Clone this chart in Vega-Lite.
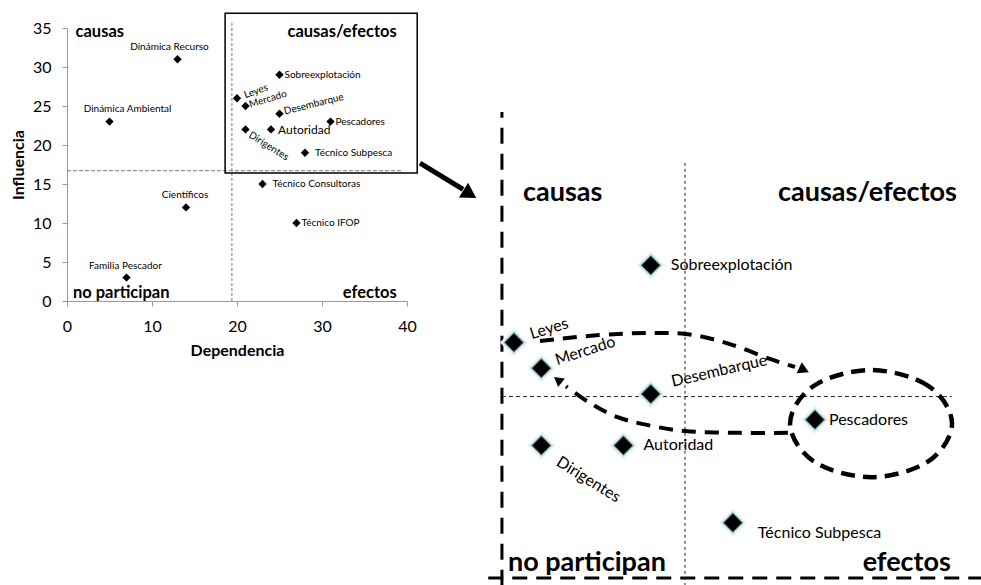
{
  "$schema": "https://vega.github.io/schema/vega-lite/v6.json",
  "width": 981,
  "height": 585,
  "autosize": {"type": "none"},
  "padding": 0,
  "background": "white",
  "config": {"view": {"stroke": null}, "font": "Lato", "text": {"font": "Lato", "color": "#000"}},
  "datasets": {
    "pts": [
      {"name": "Dinámica Recurso", "dep": 13, "inf": 31},
      {"name": "Dinámica Ambiental", "dep": 5, "inf": 23},
      {"name": "Científicos", "dep": 14, "inf": 12},
      {"name": "Familia Pescador", "dep": 7, "inf": 3},
      {"name": "Técnico Consultoras", "dep": 23, "inf": 15},
      {"name": "Técnico IFOP", "dep": 27, "inf": 10},
      {"name": "Sobreexplotación", "dep": 25, "inf": 29},
      {"name": "Leyes", "dep": 20, "inf": 26},
      {"name": "Mercado", "dep": 21, "inf": 25},
      {"name": "Desembarque", "dep": 25, "inf": 24},
      {"name": "Autoridad", "dep": 24, "inf": 22},
      {"name": "Dirigentes", "dep": 21, "inf": 22},
      {"name": "Pescadores", "dep": 31, "inf": 23},
      {"name": "Técnico Subpesca", "dep": 28, "inf": 19}
    ],
    "quadsL": [
      {"t": "causas", "dep": 1.0, "inf": 34.5},
      {"t": "causas/efectos", "dep": 38.8, "inf": 34.5},
      {"t": "no participan", "dep": 0.7, "inf": 1.0},
      {"t": "efectos", "dep": 38.8, "inf": 1.0}
    ],
    "quadsR": [
      {"t": "causas", "dep": 20.33, "inf": 31.8},
      {"t": "causas/efectos", "dep": 36.19, "inf": 31.8},
      {"t": "no participan", "dep": 19.78, "inf": 17.44},
      {"t": "efectos", "dep": 35.97, "inf": 17.44}
    ]
  },
  "layer": [
    {
      "encoding": {
        "x": {"field": "dep", "type": "quantitative",
          "scale": {"domain": [0, 40], "range": [67, 407], "nice": false, "zero": false},
          "axis": {"title": "Dependencia", "values": [0, 10, 20, 30, 40], "offset": -284, "grid": false,
            "tickSize": 5, "labelPadding": 12, "labelFontSize": 16, "labelFont": "Lato", "labelColor": "#000",
            "labelFlush": false, "labelOverlap": false, "domainColor": "#999", "tickColor": "#999",
            "titleFont": "Lato", "titleFontSize": 16, "titleFontWeight": "bold", "titleColor": "#000", "titlePadding": 8}},
        "y": {"field": "inf", "type": "quantitative",
          "scale": {"domain": [0, 35], "range": [301, 28], "nice": false, "zero": false},
          "axis": {"title": "Influencia", "values": [0, 5, 10, 15, 20, 25, 30, 35], "offset": -67, "grid": false,
            "tickSize": 5, "labelPadding": 11, "labelFontSize": 16, "labelFont": "Lato", "labelColor": "#000",
            "labelFlush": false, "labelOverlap": false, "domainColor": "#999", "tickColor": "#999",
            "titleFont": "Lato", "titleFontSize": 16, "titleFontWeight": "bold", "titleColor": "#000", "titlePadding": 6}}
      },
      "layer": [
        {"data": {"values": [{"dep": 19.4, "inf": 0, "inf2": 35.7}]},
         "mark": {"type": "rule", "strokeDash": [3, 2], "color": "#777", "strokeWidth": 1},
         "encoding": {"y2": {"field": "inf2"}}},
        {"data": {"values": [{"dep": 0, "dep2": 39.5, "inf": 16.7}]},
         "mark": {"type": "rule", "strokeDash": [4, 2], "color": "#777", "strokeWidth": 1},
         "encoding": {"x2": {"field": "dep2"}}},
        {"data": {"values": [{"dep": 18.6, "dep2": 41.2, "inf": 16.4, "inf2": 36.9}]},
         "mark": {"type": "rect", "fillOpacity": 0, "stroke": "#000", "strokeWidth": 1.5},
         "encoding": {"x2": {"field": "dep2"}, "y2": {"field": "inf2"}}},
        {"data": {"name": "pts"},
         "mark": {"type": "point", "shape": "diamond", "filled": true, "size": 70, "color": "#000", "opacity": 1}},
        {"data": {"name": "pts"}, "transform": [{"filter": {"field": "name", "oneOf": ["Dinámica Recurso"]}}],
         "mark": {"type": "text", "align": "center", "baseline": "middle", "dx": -8, "dy": -12, "fontSize": 10},
         "encoding": {"text": {"field": "name"}}},
        {"data": {"name": "pts"}, "transform": [{"filter": {"field": "name", "oneOf": ["Dinámica Ambiental"]}}],
         "mark": {"type": "text", "align": "center", "baseline": "middle", "dx": 18, "dy": -13, "fontSize": 10},
         "encoding": {"text": {"field": "name"}}},
        {"data": {"name": "pts"}, "transform": [{"filter": {"field": "name", "oneOf": ["Científicos", "Familia Pescador"]}}],
         "mark": {"type": "text", "align": "center", "baseline": "middle", "dx": -1, "dy": -12, "fontSize": 10},
         "encoding": {"text": {"field": "name"}}},
        {"data": {"name": "pts"}, "transform": [{"filter": {"field": "name", "oneOf": ["Técnico IFOP", "Sobreexplotación", "Pescadores"]}}],
         "mark": {"type": "text", "align": "left", "baseline": "middle", "dx": 5, "fontSize": 10},
         "encoding": {"text": {"field": "name"}}},
        {"data": {"name": "pts"}, "transform": [{"filter": {"field": "name", "oneOf": ["Técnico Consultoras", "Técnico Subpesca"]}}],
         "mark": {"type": "text", "align": "left", "baseline": "middle", "dx": 10, "fontSize": 10},
         "encoding": {"text": {"field": "name"}}},
        {"data": {"name": "pts"}, "transform": [{"filter": {"field": "name", "oneOf": ["Autoridad"]}}],
         "mark": {"type": "text", "align": "left", "baseline": "middle", "dx": 7, "dy": 1, "fontSize": 12},
         "encoding": {"text": {"field": "name"}}},
        {"data": {"name": "pts"}, "transform": [{"filter": {"field": "name", "oneOf": ["Leyes"]}}],
         "mark": {"type": "text", "align": "left", "baseline": "middle", "dx": 8, "dy": 0, "angle": -20, "fontSize": 10},
         "encoding": {"text": {"field": "name"}}},
        {"data": {"name": "pts"}, "transform": [{"filter": {"field": "name", "oneOf": ["Mercado"]}}],
         "mark": {"type": "text", "align": "left", "baseline": "middle", "dx": 4, "dy": 0, "angle": -17, "fontSize": 10},
         "encoding": {"text": {"field": "name"}}},
        {"data": {"name": "pts"}, "transform": [{"filter": {"field": "name", "oneOf": ["Desembarque"]}}],
         "mark": {"type": "text", "align": "left", "baseline": "middle", "dx": 5, "dy": -1, "angle": -14, "fontSize": 10},
         "encoding": {"text": {"field": "name"}}},
        {"data": {"name": "pts"}, "transform": [{"filter": {"field": "name", "oneOf": ["Dirigentes"]}}],
         "mark": {"type": "text", "align": "left", "baseline": "middle", "dx": 6, "dy": 2, "angle": 32, "fontSize": 10},
         "encoding": {"text": {"field": "name"}}},
        {"data": {"name": "quadsL"}, "transform": [{"filter": {"field": "t", "oneOf": ["causas", "no participan"]}}],
         "mark": {"type": "text", "align": "left", "baseline": "middle", "fontSize": 16.5, "fontWeight": "bold"},
         "encoding": {"text": {"field": "t"}}},
        {"data": {"name": "quadsL"}, "transform": [{"filter": {"field": "t", "oneOf": ["causas/efectos", "efectos"]}}],
         "mark": {"type": "text", "align": "right", "baseline": "middle", "fontSize": 16.5, "fontWeight": "bold"},
         "encoding": {"text": {"field": "t"}}},
        {"data": {"values": [{"dep": 41.53, "inf": 17.69, "o": 1}, {"dep": 46.6, "inf": 14.3, "o": 2}]},
         "mark": {"type": "line", "color": "#000", "strokeWidth": 5},
         "encoding": {"order": {"field": "o"}}},
        {"data": {"values": [{"dep": 47.4, "inf": 13.7}]},
         "mark": {"type": "point", "shape": "triangle-right", "filled": true, "size": 300, "angle": 32, "color": "#000", "opacity": 1}}
      ]
    },
    {
      "encoding": {
        "x": {"field": "dep", "type": "quantitative",
          "scale": {"domain": [19.5, 37.5], "range": [500.3, 992.8], "nice": false, "zero": false}, "axis": null},
        "y": {"field": "inf", "type": "quantitative",
          "scale": {"domain": [16.5, 37.5], "range": [587.1, 46.4], "nice": false, "zero": false}, "axis": null}
      },
      "layer": [
        {"data": {"values": [{"dep": 19.56, "inf": 16.55, "inf2": 34.95}]},
         "mark": {"type": "rule", "strokeDash": [16, 10], "color": "#000", "strokeWidth": 3},
         "encoding": {"y2": {"field": "inf2"}}},
        {"data": {"values": [{"dep": 19.06, "dep2": 37.1, "inf": 16.85}]},
         "mark": {"type": "rule", "strokeDash": [15, 9], "color": "#000", "strokeWidth": 3},
         "encoding": {"x2": {"field": "dep2"}}},
        {"data": {"values": [{"dep": 19.56, "dep2": 36.0, "inf": 23.9}]},
         "mark": {"type": "rule", "strokeDash": [4, 3], "color": "#222", "strokeWidth": 1},
         "encoding": {"x2": {"field": "dep2"}}},
        {"data": {"values": [{"dep": 26.25, "inf": 16.55, "inf2": 33.05}]},
         "mark": {"type": "rule", "strokeDash": [3, 3], "color": "#222", "strokeWidth": 1},
         "encoding": {"y2": {"field": "inf2"}}},
        {"data": {"values": [
           {"dep": 20.95, "inf": 26.06, "o": 1}, {"dep": 23.14, "inf": 26.29, "o": 2}, {"dep": 24.97, "inf": 26.37, "o": 3},
           {"dep": 26.43, "inf": 26.31, "o": 4}, {"dep": 27.89, "inf": 25.94, "o": 5}, {"dep": 29.36, "inf": 25.36, "o": 6},
           {"dep": 30.27, "inf": 25.05, "o": 7}]},
         "mark": {"type": "line", "interpolate": "cardinal", "color": "#000", "strokeWidth": 4, "strokeDash": [14, 9]},
         "encoding": {"order": {"field": "o"}}},
        {"data": {"values": [
           {"dep": 30.01, "inf": 22.49, "o": 1}, {"dep": 28.26, "inf": 22.49, "o": 2}, {"dep": 26.25, "inf": 22.56, "o": 3},
           {"dep": 24.86, "inf": 22.8, "o": 4}, {"dep": 23.76, "inf": 23.11, "o": 5}, {"dep": 22.78, "inf": 23.65, "o": 6},
           {"dep": 21.9, "inf": 24.3, "o": 7}]},
         "mark": {"type": "line", "interpolate": "cardinal", "color": "#000", "strokeWidth": 4, "strokeDash": [14, 9]},
         "encoding": {"order": {"field": "o"}}},
        {"data": {"values": [
           {"dep": 36.01, "inf": 22.85, "o": 1}, {"dep": 35.14, "inf": 24.32, "o": 2}, {"dep": 33.05, "inf": 24.93, "o": 3},
           {"dep": 30.96, "inf": 24.32, "o": 4}, {"dep": 30.09, "inf": 22.85, "o": 5}, {"dep": 30.96, "inf": 21.38, "o": 6},
           {"dep": 33.05, "inf": 20.77, "o": 7}, {"dep": 35.14, "inf": 21.38, "o": 8}]},
         "mark": {"type": "line", "interpolate": "cardinal-closed", "color": "#000", "strokeWidth": 4.5, "strokeDash": [14, 8]},
         "encoding": {"order": {"field": "o"}}},
        {"data": {"values": [{"dep": 30.6, "inf": 24.93}]},
         "mark": {"type": "point", "shape": "triangle-right", "filled": true, "size": 150, "angle": 25, "color": "#000", "opacity": 1}},
        {"data": {"values": [{"dep": 21.6, "inf": 24.55}]},
         "mark": {"type": "point", "shape": "triangle-right", "filled": true, "size": 120, "angle": 218, "color": "#000", "opacity": 1}},
        {"data": {"name": "pts"}, "transform": [{"filter": "datum.dep >= 19.5 && datum.inf >= 17"}],
         "mark": {"type": "point", "shape": "diamond", "filled": true, "size": 800, "color": "#eaf5f6", "opacity": 1}},
        {"data": {"name": "pts"}, "transform": [{"filter": "datum.dep >= 19.5 && datum.inf >= 17"}],
         "mark": {"type": "point", "shape": "diamond", "filled": true, "size": 560, "color": "#c2e0e2", "opacity": 1}},
        {"data": {"name": "pts"}, "transform": [{"filter": "datum.dep >= 19.5 && datum.inf >= 17"}],
         "mark": {"type": "point", "shape": "diamond", "filled": true, "size": 410, "color": "#5f8f93", "opacity": 1}},
        {"data": {"name": "pts"}, "transform": [{"filter": "datum.dep >= 19.5 && datum.inf >= 17"}],
         "mark": {"type": "point", "shape": "diamond", "filled": true, "size": 320, "color": "#000", "opacity": 1}},
        {"data": {"name": "pts"}, "transform": [{"filter": {"field": "name", "oneOf": ["Sobreexplotación"]}}],
         "mark": {"type": "text", "align": "left", "baseline": "middle", "dx": 20, "fontSize": 16},
         "encoding": {"text": {"field": "name"}}},
        {"data": {"name": "pts"}, "transform": [{"filter": {"field": "name", "oneOf": ["Leyes"]}}],
         "mark": {"type": "text", "align": "left", "baseline": "middle", "dx": 18, "dy": -3, "angle": -17, "fontSize": 16},
         "encoding": {"text": {"field": "name"}}},
        {"data": {"name": "pts"}, "transform": [{"filter": {"field": "name", "oneOf": ["Mercado"]}}],
         "mark": {"type": "text", "align": "left", "baseline": "middle", "dx": 16, "dy": -3, "angle": -18, "fontSize": 16},
         "encoding": {"text": {"field": "name"}}},
        {"data": {"name": "pts"}, "transform": [{"filter": {"field": "name", "oneOf": ["Desembarque"]}}],
         "mark": {"type": "text", "align": "left", "baseline": "middle", "dx": 23, "dy": -7, "angle": -13, "fontSize": 16},
         "encoding": {"text": {"field": "name"}}},
        {"data": {"name": "pts"}, "transform": [{"filter": {"field": "name", "oneOf": ["Autoridad"]}}],
         "mark": {"type": "text", "align": "left", "baseline": "middle", "dx": 20, "fontSize": 16},
         "encoding": {"text": {"field": "name"}}},
        {"data": {"name": "pts"}, "transform": [{"filter": {"field": "name", "oneOf": ["Dirigentes"]}}],
         "mark": {"type": "text", "align": "left", "baseline": "middle", "dx": 22, "dy": 4, "angle": 32, "fontSize": 16},
         "encoding": {"text": {"field": "name"}}},
        {"data": {"name": "pts"}, "transform": [{"filter": {"field": "name", "oneOf": ["Pescadores"]}}],
         "mark": {"type": "text", "align": "left", "baseline": "middle", "dx": 14, "fontSize": 16},
         "encoding": {"text": {"field": "name"}}},
        {"data": {"name": "pts"}, "transform": [{"filter": {"field": "name", "oneOf": ["Técnico Subpesca"]}}],
         "mark": {"type": "text", "align": "left", "baseline": "middle", "dx": 25, "dy": 10, "fontSize": 16},
         "encoding": {"text": {"field": "name"}}},
        {"data": {"name": "quadsR"}, "transform": [{"filter": {"field": "t", "oneOf": ["causas", "no participan"]}}],
         "mark": {"type": "text", "align": "left", "baseline": "middle", "fontSize": 27, "fontWeight": "bold"},
         "encoding": {"text": {"field": "t"}}},
        {"data": {"name": "quadsR"}, "transform": [{"filter": {"field": "t", "oneOf": ["causas/efectos", "efectos"]}}],
         "mark": {"type": "text", "align": "right", "baseline": "middle", "fontSize": 27, "fontWeight": "bold"},
         "encoding": {"text": {"field": "t"}}}
      ]
    }
  ],
  "resolve": {"scale": {"x": "independent", "y": "independent"}}
}
